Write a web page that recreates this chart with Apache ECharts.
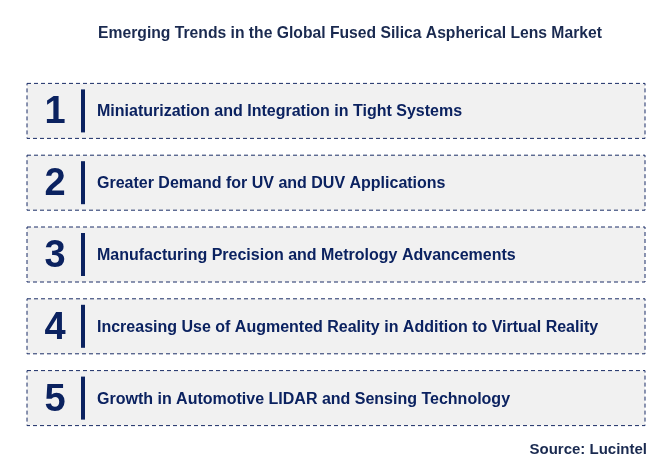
<!DOCTYPE html>
<html><head><meta charset="utf-8">
<script src="https://cdn.jsdelivr.net/npm/echarts@6/dist/echarts.min.js"></script>
<style>html,body{margin:0;background:#fff}#c{width:667px;height:470px}</style>
</head><body><div id="c"></div>
<script>
const numbers = ['1', '2', '3', '4', '5'];
const trends = [
  'Miniaturization and Integration in Tight Systems',
  'Greater Demand for UV and DUV Applications',
  'Manufacturing Precision and Metrology Advancements',
  'Increasing Use of Augmented Reality in Addition to Virtual Reality',
  'Growth in Automotive LIDAR and Sensing Technology',
];
const navy = '#0b2260';
const font = 'Arial, "Liberation Sans", sans-serif';

const chart = echarts.init(document.getElementById('c'));
chart.setOption({
  animation: false,
  title: {
    text: 'Emerging Trends in the Global Fused Silica Aspherical Lens Market',
    left: 345, top: 21, textAlign: 'center',
    textStyle: { color: '#1a2a50', fontSize: 15.7, fontWeight: 'bold', fontFamily: font },
  },
  graphic: [{
    type: 'text', right: 20, top: 442,
    style: { text: 'Source: Lucintel', fill: '#1a2a50', font: 'bold 15px ' + font },
  }],
  grid: { left: 27, right: 22, top: 75, bottom: 36 },
  xAxis: { type: 'value', min: 0, max: 1, show: false },
  yAxis: { type: 'category', inverse: true, data: numbers, show: false },
  series: [{
    type: 'custom',
    data: trends.map((t, i) => [i, t]),
    encode: { y: 0 },
    renderItem: (params, api) => {
      const i = api.value(0);
      const c = api.coord([0, i]);
      const h = 55;
      const x0 = params.coordSys.x, w = params.coordSys.width;
      const y0 = c[1] - h / 2;
      return {
        type: 'group',
        children: [
          { type: 'rect', shape: { x: x0, y: y0, width: w, height: h },
            style: { fill: '#f1f1f1', stroke: '#1a2d66', lineWidth: 1, lineDash: [4, 3] } },
          { type: 'text', style: { x: x0 + 28, y: c[1] + 2, text: numbers[i], fill: navy,
            font: 'bold 38px ' + font, textAlign: 'center', textVerticalAlign: 'middle' } },
          { type: 'rect', shape: { x: x0 + 54, y: y0 + 6, width: 4, height: h - 12 },
            style: { fill: navy } },
          { type: 'text', style: { x: x0 + 70, y: c[1] + 1, text: trends[i], fill: navy,
            font: 'bold 16px ' + font, textVerticalAlign: 'middle' } },
        ],
      };
    },
  }],
});
</script></body></html>
